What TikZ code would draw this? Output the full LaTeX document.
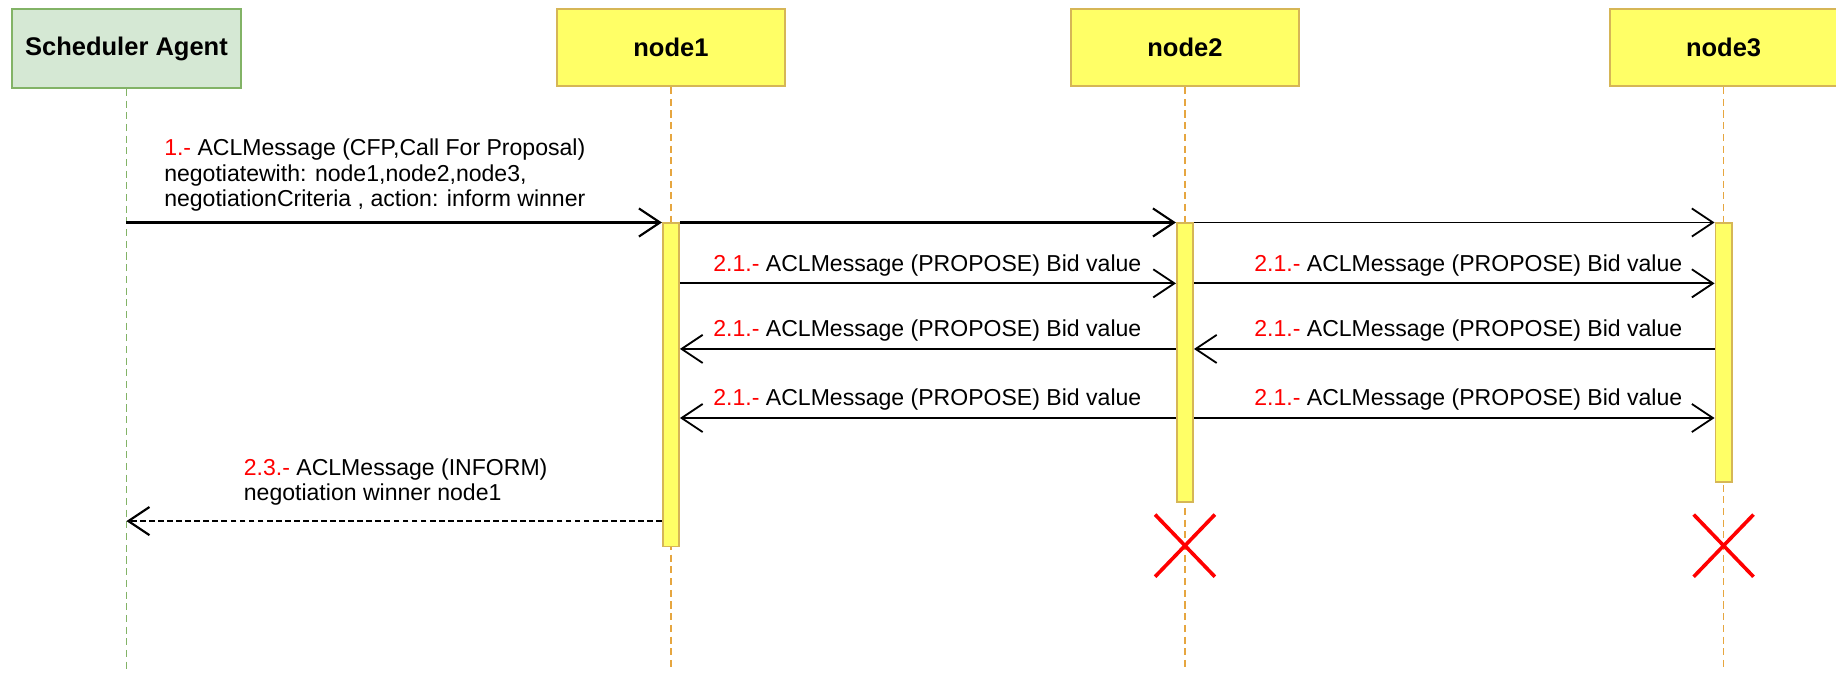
\documentclass[tikz,border=0pt]{standalone}
\usepackage{fontspec}
\setmainfont{Liberation Sans}
\usepackage{tikz}
\usetikzlibrary{arrows.meta,shapes.misc}
\definecolor{agentfill}{HTML}{D5E8D4}
\definecolor{agentline}{HTML}{82B366}
\definecolor{nodefill}{HTML}{FFFF66}
\definecolor{nodeline}{HTML}{D6B656}
\definecolor{lifeline}{HTML}{E6A640}
\definecolor{msgred}{HTML}{FF0000}
\newcommand{\stepno}[1]{\textcolor{msgred}{#1}}

\begin{document}
\begin{tikzpicture}[x=0.025cm,y=-0.025cm,
  agent/.style={draw=agentline,fill=agentfill,line width=1.2pt,minimum width=4.9cm,minimum height=1.675cm,font=\fontsize{15.5}{18}\selectfont\bfseries},
  head/.style={draw=nodeline,fill=nodefill,line width=1.2pt,minimum width=4.85cm,minimum height=1.65cm,font=\fontsize{15.5}{18}\selectfont\bfseries},
  life/.style={line width=0.8pt,dash pattern=on 4.3pt off 2.8pt},
  bar/.style={draw=nodeline,fill=nodefill,line width=1pt,minimum width=0.35cm,inner sep=0pt,anchor=north},
  msg/.style={-{Straight Barb[length=0.45cm,width=0.6cm]},line width=1.1pt},
  reply/.style={msg,line width=1.3pt,dash pattern=on 3.5pt off 2pt},
  lbl/.style={font=\fontsize{14}{15.6}\selectfont,inner sep=0pt,align=left},
  kill/.style={draw=msgred,cross out,line width=2.2pt,minimum width=1.2cm,minimum height=1.25cm,inner sep=0pt}]
\useasboundingbox (0,0) rectangle (1568,579);

\node[agent] (sched) at (108,41.5) {Scheduler Agent};
\foreach \n/\x in {node1/573,node2/1012,node3/1472}
 \node[head] (\n) at (\x,40.5) {\n};

\coordinate (end) at (0,572);
\draw[life,draw=agentline] (sched.south) -- (sched |- end);
\foreach \n in {node1,node2,node3}
 \draw[life,draw=lifeline] (\n.south) -- (\n |- end);

\coordinate (m1) at (0,190);
\coordinate (m2) at (0,242);
\coordinate (m3) at (0,298);
\coordinate (m4) at (0,357);
\coordinate (m5) at (0,445);
\coordinate (xs) at (0,466);

\node[bar,minimum height=6.9cm] (bar1) at (node1 |- m1) {};
\node[bar,minimum height=5.95cm] (bar2) at (node2 |- m1) {};
\node[bar,minimum height=5.525cm] (bar3) at (node3 |- m1) {};

\draw[msg,line width=1.3pt] (sched |- m1) -- (bar1.north west);
\draw[msg,line width=1.3pt] (bar1.north east) -- (bar2.north west);
\draw[msg] (bar2.north east) -- (bar3.north west);
\node[lbl,anchor=south west] at (140,181) {\stepno{1.-} ACLMessage (CFP,Call For Proposal)\\negotiatewith: node1,node2,node3,\\negotiationCriteria , action: inform winner};

\draw[msg] (bar1.east |- m2) -- (bar2.west |- m2);
\draw[msg] (bar2.east |- m2) -- (bar3.west |- m2);
\draw[msg] (bar2.west |- m3) -- (bar1.east |- m3);
\draw[msg] (bar3.west |- m3) -- (bar2.east |- m3);
\draw[msg] (bar2.west |- m4) -- (bar1.east |- m4);
\draw[msg] (bar2.east |- m4) -- (bar3.west |- m4);
\foreach \y in {236,292,351} {
 \node[lbl,anchor=south east] at (975,\y) {\stepno{2.1.-} ACLMessage (PROPOSE) Bid value};
 \node[lbl,anchor=south east] at (1437,\y) {\stepno{2.1.-} ACLMessage (PROPOSE) Bid value};
}

\draw[reply] (bar1.west |- m5) -- (sched |- m5);
\node[lbl,anchor=south west] at (208,432) {\stepno{2.3.-} ACLMessage (INFORM)\\negotiation winner node1};

\node[kill] (x2) at (node2 |- xs) {};
\node[kill] (x3) at (node3 |- xs) {};
\end{tikzpicture}
\end{document}
